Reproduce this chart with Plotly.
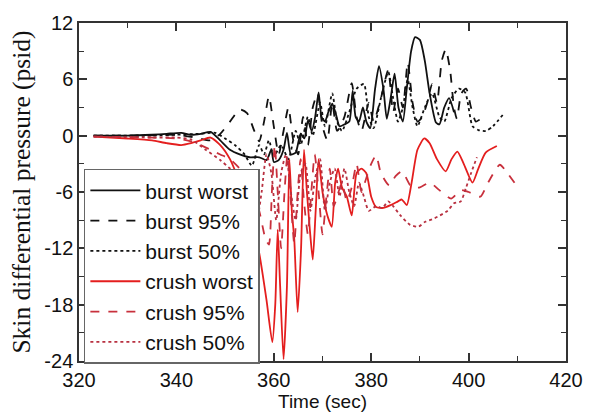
import plotly.graph_objects as go

# ---------------- data ----------------
bw_t = [323, 330, 335, 338, 341, 343, 345, 347, 349, 351, 353, 355, 357, 358.5, 359.5, 360, 361, 362, 362.7,
        363.5, 364.5, 365.5, 366.3, 367, 367.8, 368.5, 369.2, 369.8, 370.5, 371.2, 372, 372.8, 373.5, 374.5,
        375.5, 376.2, 376.8, 377.5, 378.3, 379, 379.8, 380.8, 381.6, 382.5, 383.2, 384, 384.8, 385.6, 386.5,
        387.3, 388.2, 389, 390, 391, 392, 393.3, 394, 395, 396, 397]
bw_p = [0, 0, 0.1, 0.2, 0.3, 0.1, 0.2, 0.4, -0.5, -1.5, -2.0, -2.3, -2.3, -2.6, -1.5, -2.8, -2.6, -1.5, 0.3,
        -2.0, -1.8, 0.2, -0.3, 1.6, 0.5, 2.0, 4.6, 2.0, 1.5, 2.5, 3.4, 2.2, 1.0, 1.2,
        1.5, 4.8, 2.0, 1.5, 3.0, 1.5, 0.8, 5.0, 7.4, 5.0, 1.8, 4.0, 6.6, 3.0, 1.5,
        5.0, 9.0, 10.5, 10.2, 8.0, 4.5, 1.4, 1.2, 3.0, 4.0, 2.5]

b95_t = [323, 330, 336, 340, 344, 347, 349, 351, 353, 354.5, 356, 357, 358, 359, 360, 361, 362, 363, 364,
         365, 366, 367, 368, 369, 370, 371, 372, 373, 374.5, 376, 377, 378, 379.5, 380.5, 382, 383.5,
         384.5, 385.5, 386.5, 387.5, 388.5, 389.5, 390.5, 391.5, 392.5, 393.5, 394.5, 395.3, 396.2,
         397, 397.6, 398.5, 399.5, 400.5, 401.5, 402.5]
b95_p = [0, 0, 0.05, 0.1, -0.2, -0.5, 0.2, 1.5, 2.8, 2.4, 0.5, -0.6, 1.5, 4.2, 1.0, -2.0, 0.5, 3.0, -0.5,
         -2.0, 2.0, -1.0, 3.0, 4.5, 1.0, -0.5, 3.5, 0.5, 2.0, 5.6, 2.0, 0.5, 3.5, 1.5, 4.0, 7.0,
         2.5, 5.0, 3.0, 7.8, 3.5, 1.5, 2.0, 3.5, 5.5, 3.5, 8.0, 9.2, 7.0,
         3.0, 1.8, 4.5, 5.0, 3.0, 1.5, 1.8]

b50_t = [323, 335, 340, 345, 348, 350, 352, 354, 355.5, 357, 358, 359, 360, 361.5, 363, 364.5, 365.5, 367,
         368, 369.5, 370.5, 372, 373, 374, 375.5, 377, 378.5, 379.5, 380.5, 382, 383.5, 384.5, 385.5,
         386.5, 387.5, 388.5, 389.5, 391, 392.5, 394, 395, 396.5, 398, 399.3, 400.8, 402, 403.5, 405, 407]
b50_p = [0, 0, 0.1, 0.2, 0.3, -0.3, -1.0, -2.0, -3.2, -1.0, -2.0, -0.5, -2.2, -1.0, -2.5, 0.5, -1.0, 2.0,
         0.0, 3.5, 1.0, 4.5, 1.5, 0.5, 2.5, 5.0, 5.5, 2.0, 0.8, 4.0, 6.8, 4.0, 1.5,
         3.0, 6.0, 3.0, 1.0, 3.0, 4.5, 2.0, 1.5, 4.0, 5.0, 4.6, 1.0, 0.6, 0.5, 1.0, 2.2]

cw_t = [323, 330, 335, 338, 341, 343, 345, 347, 349, 351, 353, 355, 357, 358.5, 359.7, 360.3, 360.8, 361.3,
        362, 362.7, 363.2, 363.7, 364.2, 364.9, 365.6, 366.2, 366.8, 367.4, 368, 368.6, 369.2, 370, 371,
        371.9, 372.6, 373.2, 374, 375, 376, 377, 378, 379, 380, 381, 382.5, 384, 385.5, 386.3, 387.3,
        388.3, 389.5, 390.9, 392, 393.5, 395.3, 396.5, 397.7, 399, 400.8, 402, 403.5, 405.8]
cw_p = [-0.1, -0.3, -0.5, -0.8, -1.0, -0.8, -0.5, -0.2, -1.0, -2.5, -5.0, -8.0, -12.5, -17.5, -22.0, -18.0,
        -10.0, -16.0, -23.8, -16.0, -2.5, -8.0, -11.0, -18.8, -12.0, -1.5, -6.0, -10.0, -13.2, -8.0, -2.5,
        -6.0, -8.5, -9.7, -5.0, -3.5, -5.5, -6.5, -8.5, -4.0, -3.5, -4.0, -6.5, -7.6, -7.7, -7.4, -7.0,
        -6.8, -7.4, -5.0, -1.5, -0.3, -0.8, -2.5, -3.8, -2.5, -1.7, -3.0, -5.0, -3.5, -1.8, -1.1]

c95_t = [323, 335, 340, 343, 345, 347, 349, 351, 353, 355, 357, 358.3, 359, 359.6, 360.2, 360.8, 361.5,
         362.2, 362.8, 363.5, 364.2, 364.9, 365.5, 366.2, 367, 367.7, 368.4, 369.2, 370, 370.8, 371.5,
         372.3, 373, 374, 375, 376, 377, 378, 379, 380, 381, 382, 383.7, 385, 386.3, 388.3, 390, 392,
         394, 396.4, 398.4, 400, 402.4, 404, 406.4, 408, 409.8]
c95_p = [-0.1, -0.2, -0.3, -0.6, -1.0, -1.5, -2.0, -2.5, -3.5, -5.0, -8.0, -11.0, -11.6, -6.0, -1.0, -6.0,
         -12.0, -6.0, -2.0, -7.0, -11.5, -6.0, -2.5, -7.0, -10.5, -6.0, -2.0, -6.0, -10.5, -6.5, -3.5,
         -7.5, -6.5, -5.0, -7.0, -5.5, -3.0, -6.0, -4.5, -3.0, -2.1, -4.0, -5.3, -4.3, -3.8, -5.5, -5.5,
         -5.0, -5.8, -6.7, -5.8, -6.0, -6.5, -5.0, -3.1, -4.0, -5.3]

c50_t = [323, 335, 340, 343, 346, 349, 351, 353, 355, 356.5, 357.5, 358.5, 359.5, 360.5, 361.5, 362.5,
         363.5, 364.5, 365.5, 366.5, 367.5, 368.5, 369.5, 370.5, 371.5, 372.5, 373.5, 374.5, 375.5,
         376.5, 377.5, 378.5, 379.5, 381, 382.3, 383.5, 384.5, 386, 388, 389.7, 391, 393, 395.7, 397,
         398.4, 399.5, 400.5, 401.7]
c50_p = [-0.1, -0.2, -0.2, -0.4, -1.5, -2.6, -3.5, -4.5, -6.0, -9.0, -6.0, -2.0, -4.0, -9.0, -4.0, -2.0,
         -6.0, -9.0, -4.0, -3.0, -8.0, -4.5, -2.5, -8.0, -5.0, -3.5, -6.5, -3.5, -6.0,
         -7.5, -5.0, -6.5, -8.0, -7.5, -7.7, -7.0, -7.5, -8.5, -9.5, -9.7, -9.2, -8.8, -8.0, -7.2,
         -7.0, -5.5, -4.0, -2.3]

x_ticks = [320, 340, 360, 380, 400, 420]
y_ticks = [-24, -18, -12, -6, 0, 6, 12]

# ---------------- figure ----------------
series = [
    ("burst worst", bw_t, bw_p, "#111111", "solid"),
    ("burst 95%", b95_t, b95_p, "#111111", "dash"),
    ("burst 50%", b50_t, b50_p, "#111111", "dot"),
    ("crush worst", cw_t, cw_p, "#e41e1e", "solid"),
    ("crush 95%", c95_t, c95_p, "#c8303c", "dash"),
    ("crush 50%", c50_t, c50_p, "#b83040", "dot"),
]

fig = go.Figure()
for name, t, p, col, dash in series:
    fig.add_trace(go.Scatter(x=t, y=p, mode="lines", name=name,
                             line=dict(color=col, width=1.8, dash=dash, shape="spline", smoothing=0.6)))

axis_common = dict(
    showline=True, linecolor="#333333", linewidth=1.5, mirror="ticks",
    ticks="inside", ticklen=8, tickwidth=1.5, tickcolor="#333333",
    showgrid=False, zeroline=False,
    tickfont=dict(family="Liberation Sans, Arial, sans-serif", size=20, color="#111111"),
)

fig.update_xaxes(range=[320, 420], tickvals=x_ticks, ticktext=[str(v) for v in x_ticks],
                 minor=dict(dtick=10, tick0=320, ticks="inside", ticklen=5, tickwidth=1.2, tickcolor="#333333"),
                 title=dict(text="Time (sec)", standoff=3,
                            font=dict(family="Liberation Sans, Arial, sans-serif", size=19, color="#111111")),
                 **axis_common)
fig.update_yaxes(range=[-24, 12], tickvals=y_ticks, ticktext=[str(v) for v in y_ticks],
                 minor=dict(dtick=3, tick0=0, ticks="inside", ticklen=5, tickwidth=1.2, tickcolor="#333333"),
                 title=dict(text="Skin differential pressure (psid)", standoff=6,
                            font=dict(family="Liberation Serif, Times New Roman, serif", size=25.5, color="#111111")),
                 **axis_common)

fig.update_layout(
    width=595, height=419,
    margin=dict(l=79, r=17, t=13, b=51),
    plot_bgcolor="white", paper_bgcolor="white",
    showlegend=True,
    legend=dict(x=0.01, y=-0.008, xanchor="left", yanchor="bottom",
                bgcolor="white", bordercolor="#666666", borderwidth=1.5,
                font=dict(family="Liberation Sans, Arial, sans-serif", size=21, color="#111111"),
                itemwidth=50, tracegroupgap=0),
)

fig.write_html("out.html")
